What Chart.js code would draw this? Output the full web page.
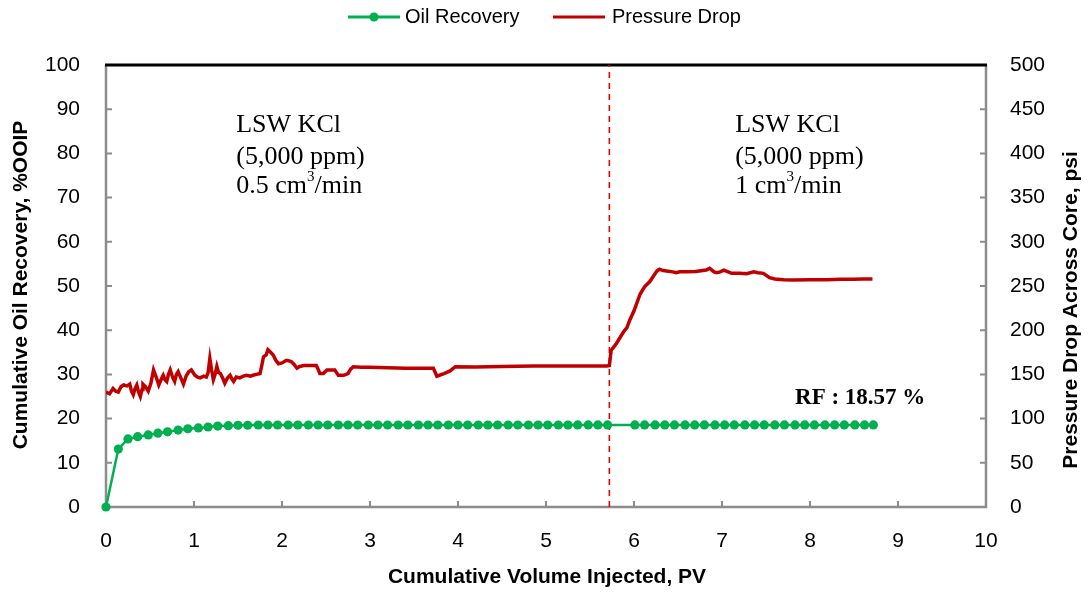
<!DOCTYPE html>
<html>
<head>
<meta charset="utf-8">
<script src="https://cdn.jsdelivr.net/npm/chart.js@4.4.1/dist/chart.umd.min.js"></script>
<style>
  html, body { margin: 0; padding: 0; background: #ffffff; }
  #wrap { width: 1088px; height: 592px; }
</style>
</head>
<body>
<div id="wrap"><canvas id="c" width="1088" height="592"></canvas></div>
<script>
// ---- Data ----
const recoveryPV = [0, 0.14, 0.25, 0.36, 0.48, 0.59, 0.70, 0.82, 0.93, 1.05, 1.16, 1.27, 1.39, 1.50, 1.61, 1.73, 1.84, 1.95, 2.07, 2.18, 2.30, 2.41, 2.52, 2.64, 2.75, 2.86, 2.98, 3.09, 3.20, 3.32, 3.43, 3.55, 3.66, 3.77, 3.89, 4.00, 4.11, 4.23, 4.34, 4.45, 4.57, 4.68, 4.80, 4.91, 5.02, 5.14, 5.25, 5.36, 5.48, 5.59, 5.70,
  6.01, 6.12, 6.24, 6.35, 6.46, 6.58, 6.69, 6.80, 6.92, 7.03, 7.14, 7.26, 7.37, 7.48, 7.60, 7.71, 7.83, 7.94, 8.05, 8.17, 8.28, 8.39, 8.51, 8.62, 8.72];
const recoveryPct = [0, 13.1, 15.4, 15.9, 16.3, 16.7, 17.0, 17.4, 17.7, 17.9, 18.1, 18.3, 18.4, 18.5, 18.5, 18.55, 18.55, 18.55, 18.55, 18.55, 18.55, 18.55, 18.55, 18.55, 18.55, 18.55, 18.55, 18.55, 18.55, 18.55, 18.55, 18.55, 18.55, 18.55, 18.55, 18.55, 18.55, 18.55, 18.55, 18.55, 18.55, 18.55, 18.55, 18.55, 18.55, 18.55, 18.55, 18.57, 18.57, 18.57, 18.57,
  18.57, 18.57, 18.57, 18.57, 18.57, 18.57, 18.57, 18.57, 18.57, 18.57, 18.57, 18.57, 18.57, 18.57, 18.57, 18.57, 18.57, 18.57, 18.57, 18.57, 18.57, 18.57, 18.57, 18.57, 18.57];

const pressurePV = [0.00, 0.04, 0.08, 0.11, 0.14, 0.17, 0.20, 0.24, 0.27, 0.29, 0.31, 0.33, 0.35, 0.37, 0.39, 0.41, 0.42, 0.45, 0.48, 0.51, 0.54, 0.57, 0.60, 0.63, 0.65, 0.67, 0.69, 0.71, 0.73, 0.76, 0.78, 0.80, 0.82, 0.85, 0.88, 0.91, 0.94, 0.97, 1.01, 1.04, 1.07, 1.11, 1.14, 1.16, 1.18, 1.20, 1.22, 1.24, 1.26, 1.28, 1.30, 1.33, 1.35, 1.38, 1.41, 1.43, 1.45, 1.48, 1.52, 1.56, 1.60, 1.64, 1.67, 1.71, 1.75, 1.77, 1.79, 1.82, 1.84, 1.87, 1.90, 1.93, 1.96, 2.00, 2.05, 2.09, 2.11, 2.14, 2.17, 2.20, 2.25, 2.30, 2.35, 2.39, 2.41, 2.43, 2.47, 2.51, 2.56, 2.60, 2.62, 2.64, 2.70, 2.75, 2.78, 2.81, 2.90, 3.00, 3.20, 3.40, 3.57, 3.72, 3.76, 3.84, 3.91, 3.97, 4.20, 4.50, 4.86, 5.30, 5.69, 5.72, 5.74, 5.80, 5.88, 5.92, 5.95, 6.00, 6.07, 6.12, 6.18, 6.22, 6.26, 6.29, 6.33, 6.37, 6.44, 6.48, 6.52, 6.60, 6.70, 6.82, 6.86, 6.91, 6.94, 6.98, 7.02, 7.07, 7.11, 7.20, 7.28, 7.36, 7.41, 7.47, 7.54, 7.60, 7.70, 7.81, 8.00, 8.19, 8.35, 8.49, 8.60, 8.71];
const pressurePsi = [130, 128, 134, 131, 130, 136, 138, 137, 139, 131, 127, 134, 138, 130, 125, 133, 139, 136, 131, 140, 155, 147, 138, 145, 149, 144, 142, 150, 155, 146, 142, 150, 153, 146, 139, 148, 153, 155, 149, 147, 146, 148, 147, 152, 168, 155, 144, 150, 159, 152, 151, 145, 140, 146, 149, 145, 142, 147, 146, 148, 149, 148, 149, 150, 151, 160, 170, 172, 178, 175, 172, 166, 162, 163, 166, 165, 164, 161, 157, 159, 160, 160, 160, 160, 156, 151, 151, 155, 155, 155, 152, 149, 149, 151, 156, 158.7, 158, 158, 157.5, 157, 157, 157, 148, 151, 154, 158.7, 158.5, 159, 159.4, 159.5, 159.5, 160, 177, 185, 198, 203, 211, 222, 241, 249, 255, 261, 267, 269, 267.5, 267, 266, 265, 266, 266, 266.5, 268, 270, 266, 265, 266, 268, 266, 264.3, 264.5, 264, 266, 265, 264.3, 259.4, 258, 257, 256.8, 257, 257, 257.5, 257.6, 258, 258];

const switchPV = 5.72;
const xTicks = [0, 1, 2, 3, 4, 5, 6, 7, 8, 9, 10];
const yLeftRange = [0, 100];
const yRightRange = [0, 500];
const seriesNames = ['Oil Recovery', 'Pressure Drop'];
const leftNote = ['LSW KCl', '(5,000 ppm)', ['0.5 cm', '3', '/min']];
const rightNote = ['LSW KCl', '(5,000 ppm)', ['1 cm', '3', '/min']];
const rfNote = 'RF : 18.57 %';
const axisTitles = { x: 'Cumulative Volume Injected, PV', y: 'Cumulative Oil Recovery, %OOIP', y2: 'Pressure Drop Across Core, psi' };

const GREEN = '#00B050';
const RED = '#C00000';
const AXIS_GRAY = '#8C8C8C';
const tickFont = { family: "'Liberation Sans', Arial, sans-serif", size: 21 };

const recoveryData = recoveryPV.map((x, i) => ({ x: x, y: recoveryPct[i] }));
const pressureData = pressurePV.map((x, i) => ({ x: x, y: pressurePsi[i] }));
const switchLine = [{ x: switchPV, y: yLeftRange[0] }, { x: switchPV, y: yLeftRange[1] }];

function drawNote(ctx, item, x, y) {
  if (typeof item === 'string') { ctx.fillText(item, x, y); return; }
  const base = "26px 'Liberation Serif', 'Times New Roman', serif";
  const sup = "15px 'Liberation Serif', 'Times New Roman', serif";
  ctx.font = base;
  ctx.fillText(item[0], x, y);
  let cx = x + ctx.measureText(item[0]).width;
  ctx.font = sup;
  ctx.fillText(item[1], cx, y - 9);
  cx += ctx.measureText(item[1]).width;
  ctx.font = base;
  ctx.fillText(item[2], cx, y);
}

const framePlugin = {
  id: 'frame',
  beforeDatasetsDraw(chart) {
    const ctx = chart.ctx;
    const a = chart.chartArea;
    const sx = chart.scales.x, sy = chart.scales.y, sy2 = chart.scales.y2;
    ctx.save();
    ctx.strokeStyle = AXIS_GRAY;
    ctx.lineWidth = 2.5;
    ctx.beginPath();
    ctx.moveTo(a.left, a.top); ctx.lineTo(a.left, a.bottom); ctx.lineTo(a.right, a.bottom); ctx.lineTo(a.right, a.top);
    ctx.stroke();
    ctx.lineWidth = 2;
    ctx.beginPath();
    xTicks.forEach(v => { const p = sx.getPixelForValue(v); ctx.moveTo(p, a.bottom); ctx.lineTo(p, a.bottom - 6); });
    sy.ticks.forEach(t => { const p = sy.getPixelForValue(t.value); ctx.moveTo(a.left, p); ctx.lineTo(a.left + 6, p); });
    sy2.ticks.forEach(t => { const p = sy2.getPixelForValue(t.value); ctx.moveTo(a.right, p); ctx.lineTo(a.right - 6, p); });
    ctx.stroke();
    ctx.strokeStyle = '#000000';
    ctx.lineWidth = 3;
    ctx.beginPath();
    ctx.moveTo(a.left - 1, a.top); ctx.lineTo(a.right + 1, a.top);
    ctx.stroke();
    ctx.restore();
  },
  afterDraw(chart) {
    const ctx = chart.ctx;
    const a = chart.chartArea;
    const sx = chart.scales.x, sy = chart.scales.y;
    ctx.save();
    ctx.fillStyle = '#000000';
    ctx.font = "bold 21px 'Liberation Sans', Arial, sans-serif";
    ctx.textAlign = 'center';
    ctx.textBaseline = 'middle';
    ctx.fillText(axisTitles.x, 547, 577);
    ctx.save();
    ctx.translate(21, 285);
    ctx.rotate(-Math.PI / 2);
    ctx.fillText(axisTitles.y, 0, 0);
    ctx.restore();
    ctx.save();
    ctx.translate(1071, 310);
    ctx.rotate(-Math.PI / 2);
    ctx.fillText(axisTitles.y2, 0, 0);
    ctx.restore();
    // notes
    ctx.font = "26px 'Liberation Serif', 'Times New Roman', serif";
    ctx.textAlign = 'left';
    const lx = sx.getPixelForValue(1.48), rx = sx.getPixelForValue(7.15);
    const ys = [86.4, 79.2, 72.6];
    leftNote.forEach((t, i) => drawNote(ctx, t, lx, sy.getPixelForValue(ys[i])));
    rightNote.forEach((t, i) => drawNote(ctx, t, rx, sy.getPixelForValue(ys[i])));
    ctx.font = "bold 23px 'Liberation Serif', 'Times New Roman', serif";
    ctx.fillText(rfNote, sx.getPixelForValue(7.83), sy.getPixelForValue(24.6));
    // legend
    const ly = 17;
    ctx.lineWidth = 3;
    ctx.strokeStyle = GREEN;
    ctx.beginPath(); ctx.moveTo(348, ly); ctx.lineTo(400, ly); ctx.stroke();
    ctx.fillStyle = GREEN;
    ctx.beginPath(); ctx.arc(374, ly, 4.5, 0, Math.PI * 2); ctx.fill();
    ctx.strokeStyle = RED;
    ctx.beginPath(); ctx.moveTo(553, ly); ctx.lineTo(605, ly); ctx.stroke();
    ctx.fillStyle = '#000000';
    ctx.font = "20px 'Liberation Sans', Arial, sans-serif";
    ctx.fillText(seriesNames[0], 405, ly);
    ctx.fillText(seriesNames[1], 612, ly);
    ctx.restore();
  }
};

new Chart(document.getElementById('c'), {
  type: 'scatter',
  data: {
    datasets: [
      { label: 'switch', data: switchLine, yAxisID: 'y', showLine: true, borderColor: '#E00000', borderWidth: 1.6, borderDash: [6, 5], pointRadius: 0, order: 3 },
      { label: seriesNames[1], data: pressureData, yAxisID: 'y2', showLine: true, borderColor: RED, borderWidth: 3.5, pointRadius: 0, tension: 0, order: 2 },
      { label: seriesNames[0], data: recoveryData, yAxisID: 'y', showLine: true, borderColor: GREEN, borderWidth: 2.5, backgroundColor: GREEN, pointBackgroundColor: GREEN, pointBorderWidth: 0, pointRadius: 4.6, tension: 0, order: 1, clip: false }
    ]
  },
  options: {
    responsive: false,
    animation: false,
    layout: { padding: { top: 65, left: 0, right: 0, bottom: 0 } },
    plugins: { legend: { display: false }, tooltip: { enabled: false } },
    scales: {
      x: {
        type: 'linear', min: 0, max: 10,
        afterBuildTicks: s => { s.ticks = xTicks.map(v => ({ value: v })); },
        afterFit: s => { s.height = 85; },
        grid: { display: false, drawTicks: false },
        border: { display: false },
        ticks: { font: tickFont, color: '#000', padding: 22, maxRotation: 0 }
      },
      y: {
        type: 'linear', position: 'left', min: yLeftRange[0], max: yLeftRange[1],
        afterFit: s => { s.width = 106; },
        grid: { display: false, drawTicks: false },
        border: { display: false },
        ticks: { stepSize: 10, font: tickFont, color: '#000', padding: 26 }
      },
      y2: {
        type: 'linear', position: 'right', min: yRightRange[0], max: yRightRange[1],
        afterFit: s => { s.width = 102; },
        grid: { display: false, drawTicks: false },
        border: { display: false },
        ticks: { stepSize: 50, font: tickFont, color: '#000', padding: 24 }
      }
    }
  },
  plugins: [framePlugin]
});
</script>
</body>
</html>
